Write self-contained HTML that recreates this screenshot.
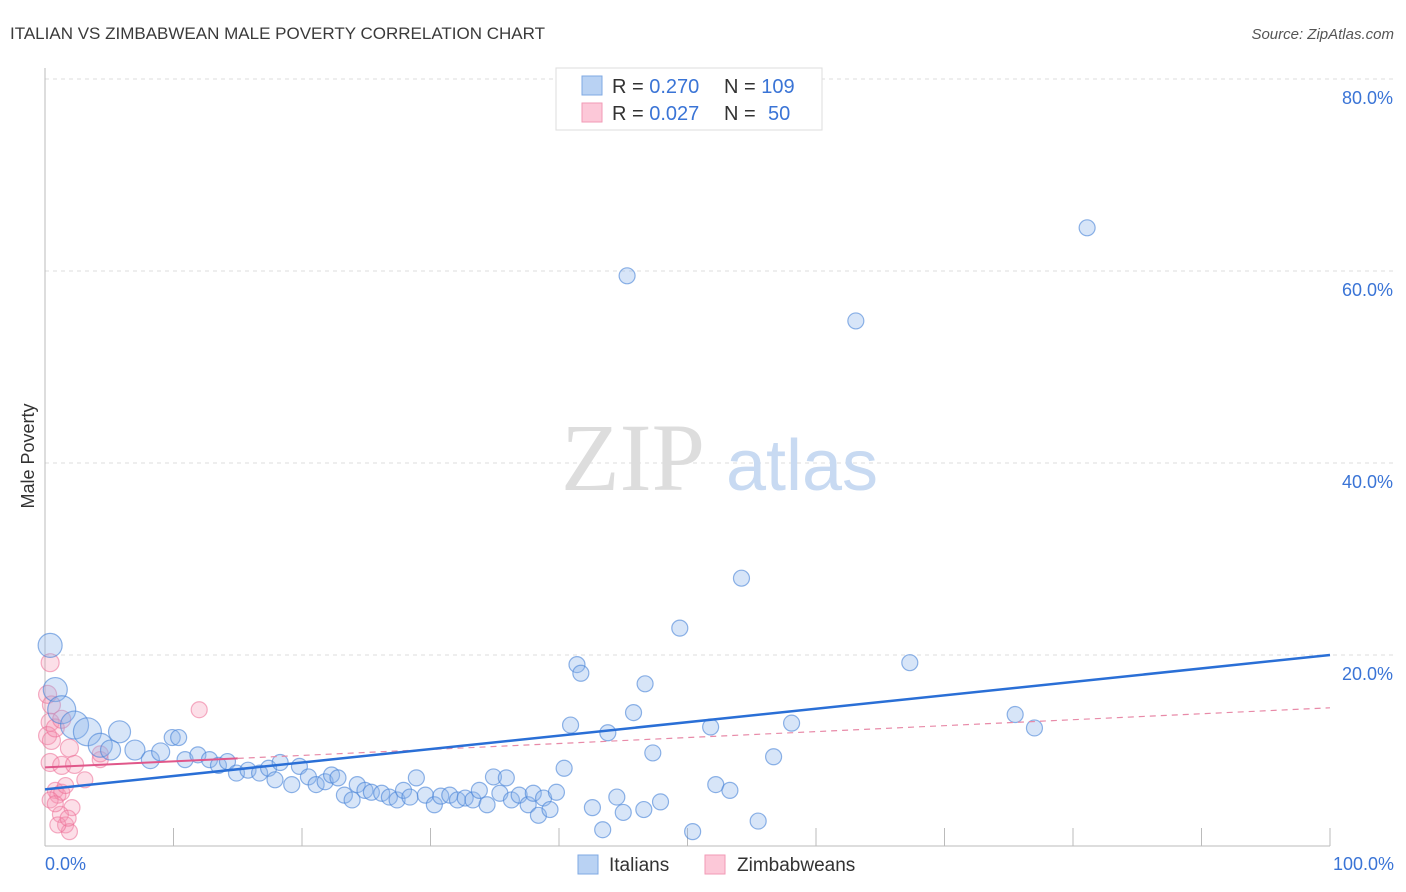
<!DOCTYPE html>
<html><head><meta charset="utf-8">
<style>
body{margin:0;background:#fff;font-family:"Liberation Sans",sans-serif;}
svg{display:block}
</style></head>
<body>
<svg id="chart" width="1406" height="892" viewBox="0 0 1406 892" xmlns="http://www.w3.org/2000/svg">
<text x="10" y="39" font-size="17" fill="#3a3a3a">ITALIAN VS ZIMBABWEAN MALE POVERTY CORRELATION CHART</text>
<text x="1394" y="39" font-size="15" fill="#555" font-style="italic" text-anchor="end">Source: ZipAtlas.com</text>
<g id="grid"></g>
<g>
<text x="633" y="490" font-size="96" fill="#ddd" font-family="Liberation Serif,serif" text-anchor="middle">ZIP</text>
<text x="802" y="490" font-size="72" fill="#c8daf2" text-anchor="middle">atlas</text>
</g>
<line x1="45" y1="68" x2="45" y2="846" stroke="#bbb"/>
<line x1="45" y1="846" x2="1330" y2="846" stroke="#bbb"/>
<g id="xticks"></g>
<g id="ylabels"></g>
<text x="45" y="870" font-size="18" fill="#3a74d6">0.0%</text>
<text x="1394" y="870" font-size="18" fill="#3a74d6" text-anchor="end">100.0%</text>
<text transform="translate(34,456) rotate(-90)" font-size="18" fill="#333" text-anchor="middle">Male Poverty</text>
<g id="pinkpts"></g>
<g id="bluepts"></g>
<g id="trends"></g>
<g>
<rect x="556" y="68" width="266" height="62" fill="#fff" stroke="#ddd"/>
<rect x="582" y="76" width="20" height="19" fill="#b9d2f3" stroke="#7fa9e3"/>
<rect x="582" y="103" width="20" height="19" fill="#fcc8d8" stroke="#f29ab6"/>
<text x="612" y="93" font-size="20" fill="#333">R = <tspan fill="#3a74d6">0.270</tspan><tspan x="724">N = </tspan><tspan fill="#3a74d6">109</tspan></text>
<text x="612" y="120" font-size="20" fill="#333">R = <tspan fill="#3a74d6">0.027</tspan><tspan x="724">N = </tspan><tspan x="768" fill="#3a74d6">50</tspan></text>
</g>
<g>
<rect x="578" y="855" width="20" height="19" fill="#b9d2f3" stroke="#7fa9e3"/>
<text x="609" y="871" font-size="19" fill="#333">Italians</text>
<rect x="705" y="855" width="20" height="19" fill="#fcc8d8" stroke="#f29ab6"/>
<text x="737" y="871" font-size="19" fill="#333">Zimbabweans</text>
</g>
</svg>
<script>
const yTicks=[20,40,60,80];
const xTickVals=[10,20,30,40,50,60,70,80,90,100];
const blueX=[0.4,0.8,1.3,2.3,3.3,4.3,5.8,5.1,7.0,8.2,9.0,9.9,10.4,10.9,11.9,12.8,13.5,14.2,14.9,15.8,16.7,17.4,17.9,18.3,19.2,19.8,20.5,21.1,21.8,22.3,22.8,23.3,23.9,24.3,24.9,25.4,26.2,26.8,27.4,27.9,28.4,28.9,29.6,30.3,30.8,31.5,32.1,32.7,33.3,33.8,34.4,34.9,35.4,35.9,36.3,36.9,37.6,38.0,38.4,38.8,39.3,39.8,40.4,40.9,41.4,41.7,42.6,43.4,43.8,44.5,45.0,45.3,45.8,46.6,46.7,47.3,47.9,49.4,50.4,51.8,52.2,53.3,54.2,55.5,56.7,58.1,63.1,67.3,75.5,77.0,81.1];
const blueY=[21.0,16.4,14.3,12.7,12.0,10.6,12.0,10.1,10.1,9.1,9.9,11.4,11.4,9.1,9.6,9.1,8.5,8.9,7.7,8.0,7.7,8.2,7.0,8.8,6.5,8.4,7.3,6.5,6.8,7.5,7.2,5.4,4.9,6.5,5.9,5.7,5.6,5.2,4.9,5.9,5.2,7.2,5.4,4.4,5.3,5.4,4.9,5.1,4.9,5.9,4.4,7.3,5.6,7.2,4.9,5.4,4.4,5.6,3.3,5.1,3.9,5.7,8.2,12.7,19.0,18.1,4.1,1.8,11.9,5.2,3.6,59.5,14.0,3.9,17.0,9.8,4.7,22.8,1.6,12.5,6.5,5.9,28.0,2.7,9.4,12.9,54.8,19.2,13.8,12.4,64.5];
const blueW=[12,12,14,14,14,12,11,10,10,9,9,8,8,8,8,8,8,8,8,8,8,8,8,8,8,8,8,8,8,8,8,8,8,8,8,8,8,8,8,8,8,8,8,8,8,8,8,8,8,8,8,8,8,8,8,8,8,8,8,8,8,8,8,8,8,8,8,8,8,8,8,8,8,8,8,8,8,8,8,8,8,8,8,8,8,8,8,8,8,8,8];
const pinkX=[0.4,0.2,0.5,0.4,0.2,0.5,0.8,1.3,1.9,0.4,1.3,2.3,12.0,4.3,3.1,0.8,1.0,1.3,1.6,0.4,2.1,1.2,1.6,1.9,1.0,1.8,0.8,4.3];
const pinkY=[19.2,15.9,14.8,13.0,11.6,11.1,12.4,13.3,10.3,8.8,8.5,8.6,14.3,9.1,7.0,5.9,5.4,5.7,6.4,4.9,4.1,3.4,2.3,1.6,2.3,3.0,4.5,9.7];
const pinkW=[9,9,9,9,9,9,9,9,9,9,9,9,8,8,8,8,8,8,8,8,8,8,8,8,8,8,8,8];
const blueTrend=[6.0,20.0];
const pinkTrend=[8.3,14.5];
const NS='http://www.w3.org/2000/svg';
const X=v=>45+v*12.85, Y=v=>847-v*9.6;
function mk(t,a,p){const e=document.createElementNS(NS,t);for(const k in a)e.setAttribute(k,a[k]);p.appendChild(e);return e;}
const grid=document.getElementById('grid'),yl=document.getElementById('ylabels'),xt=document.getElementById('xticks');
yTicks.forEach(t=>{
 const l=mk('line',{x1:45,x2:1394,y1:Y(t),y2:Y(t),stroke:'#ddd','stroke-dasharray':'4,4'},grid);
 
 
 const tx=mk('text',{x:1393,y:Y(t)+25,'font-size':18,fill:'#3a74d6','text-anchor':'end'},yl);
 tx.textContent=t.toFixed(1)+'%';
 
 
});
xTickVals.forEach(t=>{
 const l=mk('line',{x1:X(t),x2:X(t),y1:828,y2:846,stroke:'#bbb'},xt);
 
 
});
const pp=document.getElementById('pinkpts');
pinkX.forEach((v,i)=>{
 const c=mk('circle',{cx:X(v),cy:Y(pinkY[i]),r:pinkW[i],fill:'rgba(246,150,180,0.3)',stroke:'rgba(236,110,150,0.55)','stroke-width':1.2},pp);
 
 
});
const bp=document.getElementById('bluepts');
blueX.forEach((v,i)=>{
 const c=mk('circle',{cx:X(v),cy:Y(blueY[i]),r:blueW[i],fill:'rgba(140,180,235,0.35)',stroke:'rgba(70,130,215,0.6)','stroke-width':1.2},bp);
 
 
});
const tr=document.getElementById('trends');
const ps=mk('line',{x1:X(0),y1:Y(pinkTrend[0]),x2:X(15),y2:Y(pinkTrend[0]+(pinkTrend[1]-pinkTrend[0])*0.15),stroke:'#e0578a','stroke-width':2},tr);


const pd=mk('line',{x1:X(15),y1:Y(pinkTrend[0]+(pinkTrend[1]-pinkTrend[0])*0.15),x2:X(100),y2:Y(pinkTrend[1]),stroke:'#e88aa8','stroke-width':1.2,'stroke-dasharray':'6,5'},tr);


const bl=mk('line',{x1:X(0),y1:Y(blueTrend[0]),x2:X(100),y2:Y(blueTrend[1]),stroke:'#2a6fd6','stroke-width':2.5},tr);


</script>
</body></html>
